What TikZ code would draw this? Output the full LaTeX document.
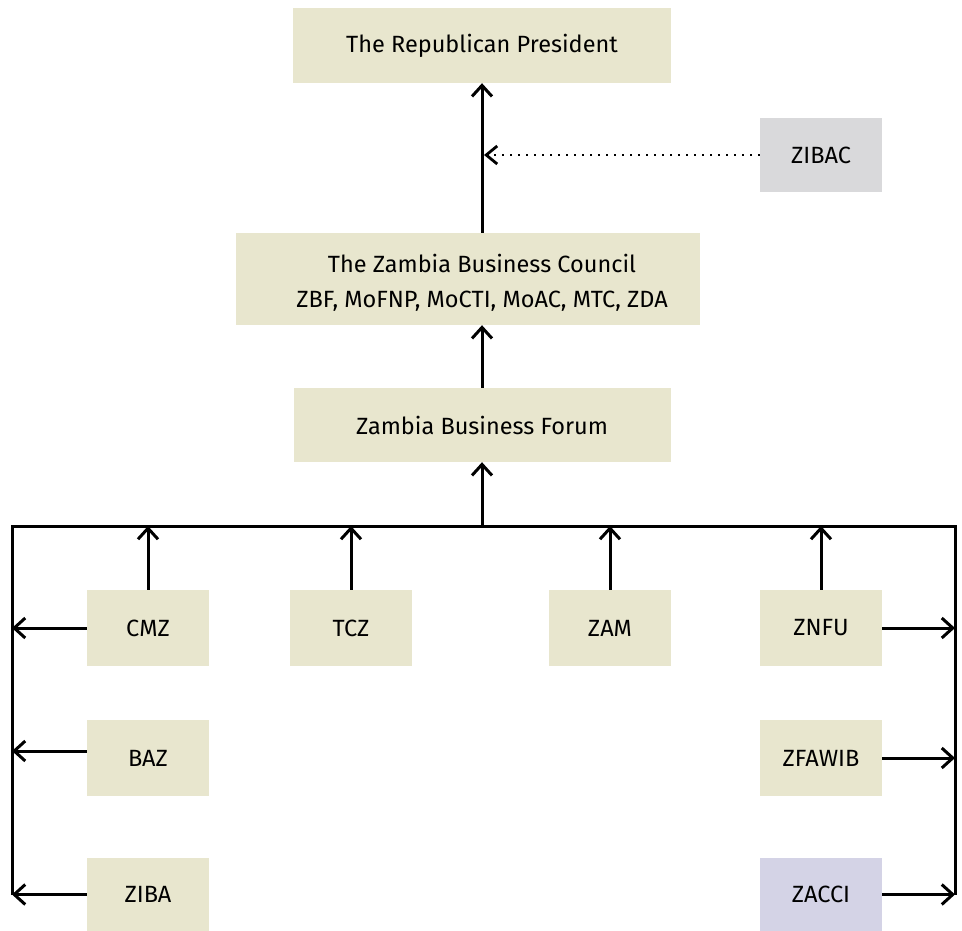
\documentclass[tikz,border=0pt]{standalone}
\usepackage{fontspec}
\setmainfont{Fira Sans}
\usetikzlibrary{arrows.meta}
\definecolor{beige}{RGB}{232,230,206}
\definecolor{greybox}{RGB}{217,217,219}
\definecolor{lav}{RGB}{212,211,230}
\begin{document}
\begin{tikzpicture}[x=1pt,y=-1pt,
  box/.style={fill=beige, inner sep=0pt, minimum width=122pt, minimum height=76pt, font=\fontsize{23.5}{28}\selectfont},
  conn/.style={line width=3pt, -{Straight Barb[length=11pt,width=20pt,line width=3pt]}},
  dotconn/.style={line width=2pt, dash pattern=on 2pt off 6pt, -{Straight Barb[length=11pt,width=18pt,line width=2.8pt]}},
  bus/.style={line width=3pt}]
\useasboundingbox (0,0) rectangle (962,931);
% boxes
\node[box, minimum width=378pt, minimum height=75pt] (pres) at (482,45.5) {The Republican President};
\node[box, fill=greybox, minimum height=74pt] (zibac) at (821,155) {ZIBAC};
\node[box, minimum width=464pt, minimum height=92pt] (zbc) at (468,279) {};
\node[font=\fontsize{23.5}{35}\selectfont, align=center, inner sep=0pt] (zbctext) at (482,283) {The Zambia Business Council\\ZBF, MoFNP, MoCTI, MoAC, MTC, ZDA};
\node[box, minimum width=377pt, minimum height=74pt] (zbf) at (482,425) {Zambia Business Forum};
\node[box] (cmz) at (148,628) {CMZ};
\node[box] (tcz) at (351,628) {TCZ};
\node[box] (zam) at (610,628) {ZAM};
\node[box] (znfu) at (821,628) {ZNFU};
\node[box] (baz) at (148,758) {BAZ};
\node[box] (zfawib) at (821,758) {ZFAWIB};
\node[box, minimum height=73pt] (ziba) at (148,894.5) {ZIBA};
\node[box, fill=lav, minimum height=73pt] (zacci) at (821,894.5) {ZACCI};
% bus
\coordinate (bl) at (12,526);
\coordinate (br) at (955,526);
\coordinate (blb) at (12,895);
\coordinate (brb) at (955,895);
\draw[bus] (blb) -- (bl) -- (br) -- (brb);
% up arrows
\draw[conn] (cmz.north) -- (cmz.north |- bl);
\draw[conn] (tcz.north) -- (tcz.north |- bl);
\draw[conn] (zam.north) -- (zam.north |- bl);
\draw[conn] (znfu.north) -- (znfu.north |- bl);
\draw[conn] (zbf.south |- bl) -- (zbf.south);
\draw[conn] (zbf.north) -- (zbf.north |- zbc.south);
\draw[conn] (zbc.north -| pres) -- (pres.south);
\draw[dotconn] (zibac.west) -- ([xshift=2pt]zibac.west -| pres);
% side arrows
\draw[conn] (cmz.west) -- (cmz.west -| bl);
\draw[conn] ([yshift=7pt]baz.west) -- ([yshift=7pt]baz.west -| bl);
\draw[conn] (ziba.west) -- (ziba.west -| bl);
\draw[conn] (znfu.east) -- (znfu.east -| br);
\draw[conn] (zfawib.east) -- (zfawib.east -| br);
\draw[conn] (zacci.east) -- (zacci.east -| br);
\end{tikzpicture}
\end{document}
